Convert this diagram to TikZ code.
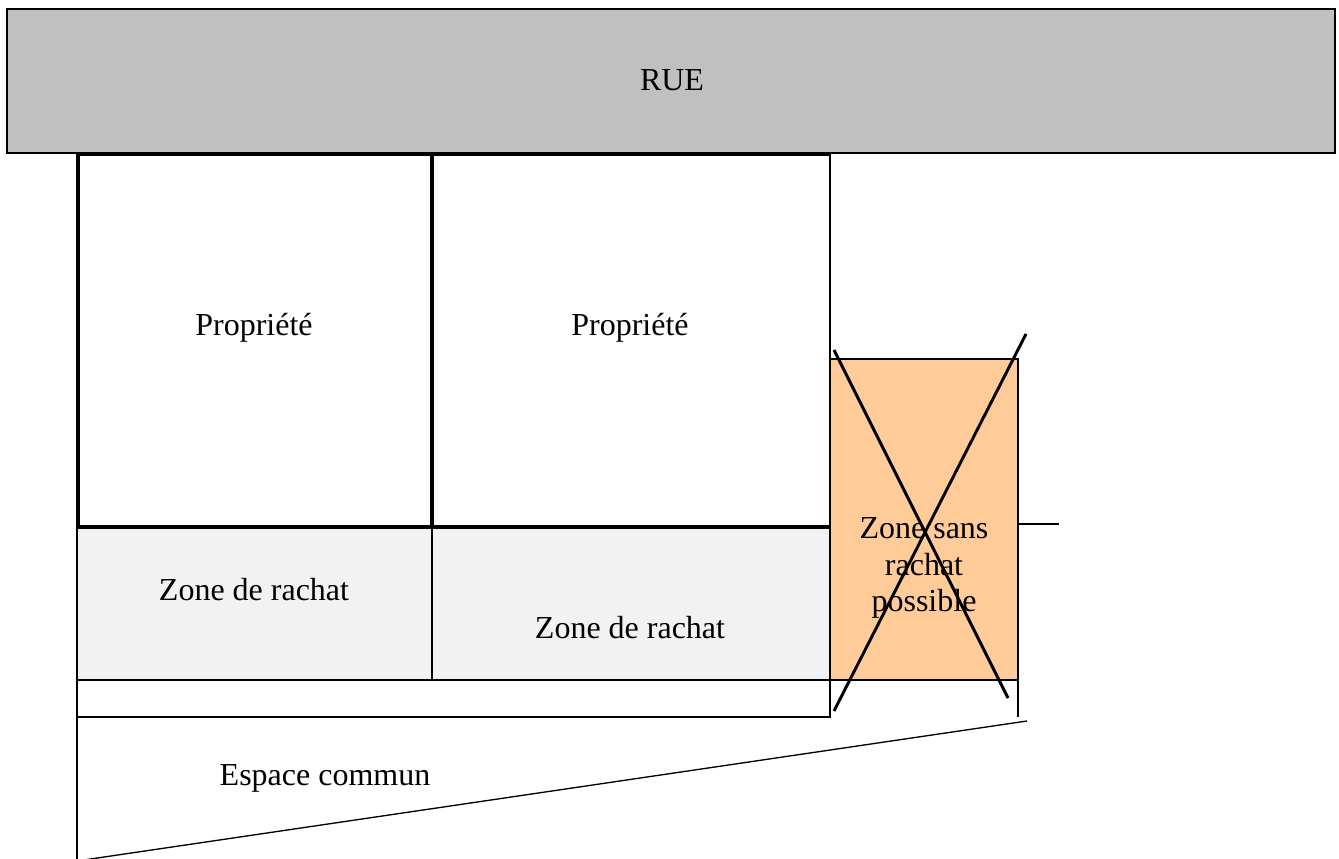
\documentclass[tikz,border=0pt]{standalone}
\usepackage{fontspec}
\setmainfont{Liberation Serif}
\usetikzlibrary{positioning}

\definecolor{ruegray}{HTML}{C0C0C0}
\definecolor{rachatgray}{HTML}{F2F2F2}
\definecolor{nozone}{HTML}{FFCC99}

\begin{document}
\begin{tikzpicture}[
    x=0.375pt, y=-0.375pt,
    label/.style={font=\fontsize{12}{13.8}\selectfont, align=center, inner sep=0pt},
    thinline/.style={draw=black, line width=0.5pt},
    wall/.style={draw=black, line width=1.5pt},
    cross/.style={draw=black, line width=1.1pt}
]
\useasboundingbox (0,0) rectangle (1339,859);

% Street
\draw[line width=0.75pt, fill=ruegray] (7,9) rectangle (1335,153);
\node[label] (rue) at (672,80) {RUE};

% Buy-back zones
\draw[thinline, fill=rachatgray] (77,527) rectangle (432,680);
\draw[thinline, fill=rachatgray] (432,527) rectangle (830,680);
\draw[thinline] (77,680) rectangle (830,717);

% Common space
\draw[thinline] (77,717) -- (77,862);
\draw[thinline] (77,861) -- (1027,721);

% Properties
\draw[thinline] (830,154) -- (830,527);
\draw[wall] (830,527) -- (78,527) -- (78,154) -- (830,154);
\draw[wall] (432,154) -- (432,527);

% Zone without buy-back
\draw[thinline, fill=nozone] (830,359) rectangle (1018,680);
\draw[thinline] (1018,680) -- (1018,717);
\draw[thinline] (1018,524) -- (1059,524);

% Labels
\node[label] (propA) at (254,328) {Propriété};
\node[label] (propB) at (630,328) {Propriété};
\node[label] (rachatA) at (254,590) {Zone de rachat};
\node[label] (rachatB) at (630,628) {Zone de rachat};
\node[label] (sansrachat) at (924,568) {Zone sans\\rachat\\possible};
\node[label] (commun) at (325,778) {Espace commun};

% Cross
\draw[cross] (834,350) -- (1008,698);
\draw[cross] (1026,334) -- (834,711);

\end{tikzpicture}
\end{document}
